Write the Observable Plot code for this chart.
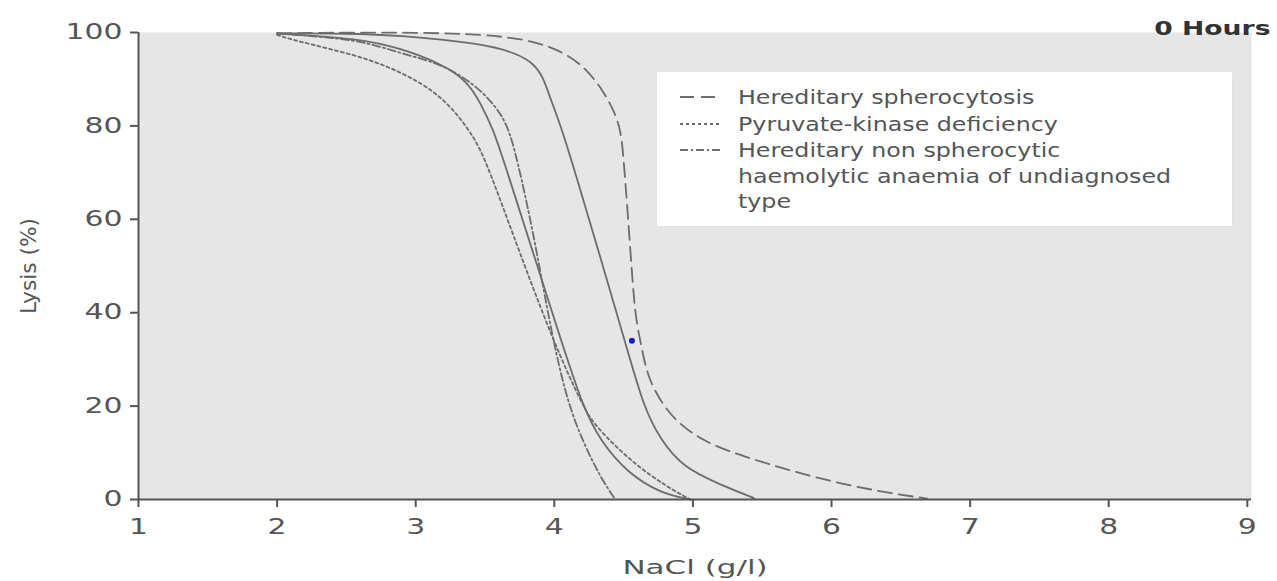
<!DOCTYPE html>
<html><head><meta charset="utf-8">
<script src="https://cdn.jsdelivr.net/npm/d3@7"></script>
<script src="https://cdn.jsdelivr.net/npm/@observablehq/plot@0.6"></script>
<style>
html,body{margin:0;padding:0;background:#fff;}
#wrap{position:relative;width:1277px;height:581px;overflow:hidden;}
#legend{position:absolute;left:657px;top:72px;width:575px;height:154px;background:#fff;font-family:"DejaVu Sans";font-size:19px;color:#555;box-shadow:0 0 2px #ddd;}
#legend .row{position:absolute;left:0;height:26px;width:100%;}
#legend svg{position:absolute;left:23px;top:0;}
#legend span{position:absolute;left:81px;white-space:nowrap;line-height:26px;transform:scaleX(1.25);transform-origin:0 50%;}
</style></head><body><div id="wrap"></div>
<script>
// ---- data ----
const xTicks = [1, 2, 3, 4, 5, 6, 7, 8, 9];
const yTicks = [0, 20, 40, 60, 80, 100];

// Hereditary spherocytosis (long dash)
const hsX = [2.0, 2.5, 3.0, 3.5, 3.85, 4.09, 4.24, 4.35, 4.43, 4.48, 4.5, 4.55, 4.58, 4.62, 4.66, 4.72, 4.86, 5.1, 5.39, 5.7, 6.06, 6.43, 6.69];
const hsY = [99.8, 100, 100, 99.6, 98.3, 95.5, 91.9, 87.6, 83.3, 79, 73.2, 53, 40, 34, 28, 23.3, 16.9, 12, 9, 6.2, 3.4, 1.3, 0.2];
// Pyruvate-kinase deficiency (dotted)
const pkX = [2.0, 2.12, 2.6, 2.89, 3.13, 3.3, 3.42, 3.49, 3.6, 3.73, 3.99, 4.21, 4.3, 4.57, 4.82, 4.98];
const pkY = [99.5, 98.3, 95, 91.6, 87.6, 82.6, 77.5, 73.5, 65, 54.5, 34, 19.7, 15.5, 7.7, 2.6, 0];
// Hereditary non spherocytic haemolytic anaemia (dash-dot)
const hnX = [2.0, 2.6, 2.89, 3.18, 3.42, 3.56, 3.66, 3.73, 3.85, 3.97, 4.1, 4.26, 4.35, 4.43];
const hnY = [99.8, 98.5, 95.5, 93.4, 89, 84.8, 80.5, 73.2, 57, 37, 19.7, 9, 4, 0.4];
// Normal range, lower bound (solid)
const n1X = [2.0, 2.6, 2.89, 3.18, 3.37, 3.47, 3.56, 3.61, 4.07, 4.21, 4.33, 4.53, 4.77, 4.98];
const n1Y = [99.8, 98.7, 96.6, 93.4, 89.7, 84.8, 79, 75, 32, 19.7, 12.6, 5.6, 1.3, 0];
// Normal range, upper bound (solid)
const n2X = [2.0, 2.5, 2.89, 3.49, 3.73, 3.85, 3.92, 3.97, 4.04, 4.12, 4.5, 4.64, 4.77, 4.93, 5.18, 5.44];
const n2Y = [99.8, 99.8, 99.4, 97.6, 95.5, 93.4, 90.4, 86, 80.5, 73.2, 35, 20, 12.6, 6.9, 3.4, 0.3];
// stray blue point
const markX = [4.56];
const markY = [34];

const legendLabels = ["Hereditary spherocytosis", "Pyruvate-kinase deficiency",
  "Hereditary non spherocytic", "haemolytic anaemia of undiagnosed", "type"];
const title = "0 Hours";
const xLabel = "NaCl (g/l)";
const yLabel = "Lysis (%)";

// ---- styles ----
const dashes = {hs: "14,7", pk: "3,3", hn: "8,3,2,3", n1: null, n2: null};
const lineColor = "#6c6c6c";

const seriesList = [
  {key: "n1", xs: n1X, ys: n1Y},
  {key: "n2", xs: n2X, ys: n2Y},
  {key: "pk", xs: pkX, ys: pkY},
  {key: "hn", xs: hnX, ys: hnY},
  {key: "hs", xs: hsX, ys: hsY}
];

const marks = [Plot.frame({fill: "#e6e6e6", stroke: null})];
for (const s of seriesList) {
  const data = s.xs.map((x, i) => ({x, y: s.ys[i]}));
  marks.push(Plot.line(data, {x: "x", y: "y", stroke: lineColor, strokeWidth: 1.8,
    strokeDasharray: dashes[s.key] || undefined, curve: "basis"}));
}
marks.push(Plot.dot(markX.map((x, i) => ({x, y: markY[i]})), {x: "x", y: "y", r: 3, fill: "#1a1acc", stroke: null}));
marks.push(Plot.ruleY([0], {stroke: "#555", strokeWidth: 2}));
marks.push(Plot.ruleX([1], {stroke: "#555", strokeWidth: 2}));
marks.push(Plot.axisX({ticks: xTicks, tickSize: 8, tickPadding: 12, stroke: "#555", strokeWidth: 2, fill: "#555", fontSize: 21, label: null}));
marks.push(Plot.axisY({ticks: yTicks, tickSize: 8, tickPadding: 8, stroke: "#555", strokeWidth: 2, fill: "#555", fontSize: 21, label: null}));
marks.push(Plot.text([xLabel], {frameAnchor: "bottom", dy: 74, fill: "#555", fontSize: 20}));
marks.push(Plot.text([yLabel], {frameAnchor: "left", dx: -110, rotate: -90, textAnchor: "middle", fill: "#555", fontSize: 22}));
marks.push(Plot.text([title], {frameAnchor: "top-right", dx: 19, dy: -12, textAnchor: "end", fontWeight: "bold", fill: "#333", fontSize: 20}));

const chart = Plot.plot({
  width: 1277, height: 581,
  marginLeft: 138, marginRight: 26, marginTop: 32, marginBottom: 82,
  x: {domain: [1, 9.03]},
  y: {domain: [0, 100]},
  style: {fontFamily: "DejaVu Sans", background: "#fff", overflow: "visible"},
  marks
});
const wrap = document.getElementById("wrap");
wrap.appendChild(chart);

// horizontal stretch of text to match the wide lettering of the reference
const tickSet = new Set([...xTicks, ...yTicks].map(String));
chart.querySelectorAll("text").forEach(t => {
  const s = t.textContent;
  let f = null;
  if (tickSet.has(s)) f = 1.42;
  else if (s === xLabel) f = 1.55;
  else if (s === title) f = 1.33;
  else if (s === yLabel) f = 96 / t.getComputedTextLength();
  if (f) {
    const w = t.getComputedTextLength();
    t.setAttribute("textLength", (w * f).toFixed(1));
    t.setAttribute("lengthAdjust", "spacingAndGlyphs");
  }
});

// legend
const legend = d3.select(wrap).append("div").attr("id", "legend");
const legendKeys = ["hs", "pk", "hn", null, null];
const rowTops = [12, 39, 65, 91, 116];
legendLabels.forEach((lab, i) => {
  const row = legend.append("div").attr("class", "row").style("top", rowTops[i] + "px");
  if (legendKeys[i]) {
    const s = row.append("svg").attr("width", 42).attr("height", 26);
    s.append("line").attr("x1", 0).attr("x2", 42).attr("y1", 13).attr("y2", 13)
      .attr("stroke", lineColor).attr("stroke-width", 1.8)
      .attr("stroke-dasharray", dashes[legendKeys[i]]);
  }
  row.append("span").text(lab);
});
</script>
</body></html>
